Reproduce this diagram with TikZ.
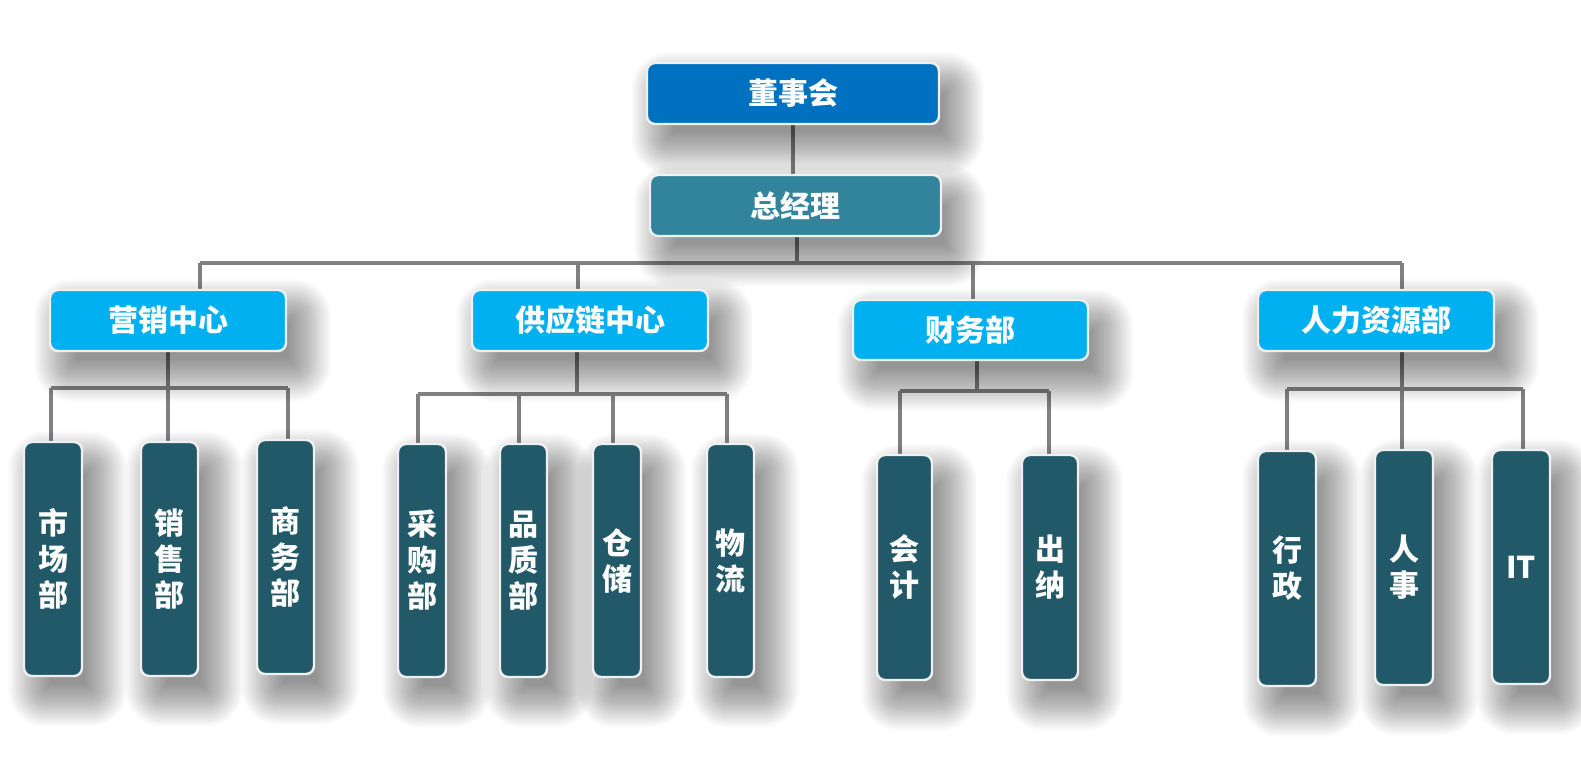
\documentclass[tikz,border=0pt]{standalone}
\usepackage{fontspec}
\newfontfamily\cjk{Noto Sans CJK SC}
\definecolor{cTop}{HTML}{0070C0}
\definecolor{cGM}{HTML}{31849B}
\definecolor{cMid}{HTML}{00B0F0}
\definecolor{cLeaf}{HTML}{215968}
\definecolor{cLine}{HTML}{808080}
\definecolor{cEdge}{HTML}{F0F0F0}
\pgfdeclarelayer{bg}
\pgfdeclarelayer{lines}
\pgfdeclarelayer{shadows}
\pgfsetlayers{bg,lines,shadows,main}
\tikzset{
  box/.style={rounded corners=6pt, draw=cEdge, line width=1.8pt, text=white,
    font=\cjk\bfseries\fontsize{22.5}{27}\selectfont, inner sep=0pt, align=center},
  dim/.style 2 args={minimum width=#1*0.75pt, minimum height=#2*0.75pt},
  topbox/.style={box, fill=cTop},
  gmbox/.style={box, fill=cGM},
  midbox/.style={box, fill=cMid},
  leafbox/.style={box, fill=cLeaf},
  link/.style={draw=cLine, line width=2.3pt},
  shadelayer/.style={fill=black, opacity=0.016}
}
\newcommand\myshadow[1]{%
  \begin{pgfonlayer}{shadows}
  \foreach \k in {0,...,29}{%
    \pgfmathsetmacro\e{(\k-9)*1.1}%
    \pgfmathsetmacro\rr{max(1,6+\e)}%
    \pgfmathsetmacro\xa{11-\e}%
    \pgfmathsetmacro\xb{11+\e}%
    \pgfmathsetmacro\ya{-15+\e}%
    \pgfmathsetmacro\yb{-15-\e}%
    \path[shadelayer, rounded corners=\rr pt]
      ([xshift=\xa pt, yshift=\ya pt]#1.north west) rectangle
      ([xshift=\xb pt, yshift=\yb pt]#1.south east);
  }
  \end{pgfonlayer}}
\begin{document}
\begin{tikzpicture}[x=0.75pt, y=-0.75pt]
\begin{pgfonlayer}{bg}
\fill[white] (0,0) rectangle (1581,763);
\end{pgfonlayer}
\useasboundingbox (0,0) rectangle (1581,763);

% top levels
\node[topbox, dim={292}{61}] (dsh) at (793,93.5) {董事会};
\node[gmbox, dim={291}{61}] (zjl) at (795.5,205.5) {总经理};

% mid level
\node[midbox, dim={236}{61}] (yx) at (168,320.5) {营销中心};
\node[midbox, dim={236}{61}] (gyl) at (590,320.5) {供应链中心};
\node[midbox, dim={235}{60}] (cwb) at (970.5,330) {财务部};
\node[midbox, dim={236}{61}] (rl) at (1376,320.5) {人力资源部};

% leaves
\node[leafbox, dim={58}{234}] (scb) at (53,559) {市\\场\\部};
\node[leafbox, dim={57}{234}] (xsb) at (169.5,559) {销\\售\\部};
\node[leafbox, dim={57}{234}] (swb) at (285.5,557) {商\\务\\部};

\node[leafbox, dim={48}{233}] (cgb) at (422,560.5) {采\\购\\部};
\node[leafbox, dim={47}{233}] (pzb) at (523.5,560.5) {品\\质\\部};
\node[leafbox, dim={48}{233}] (cc) at (617,560.5) {仓\\储};
\node[leafbox, dim={47}{233}] (wl) at (730.5,560.5) {物\\流};

\node[leafbox, dim={55}{225}] (kj) at (904.5,567.5) {会\\计};
\node[leafbox, dim={56}{225}] (cn) at (1050,567.5) {出\\纳};

\node[leafbox, dim={58}{235}] (xz) at (1287,568.5) {行\\政};
\node[leafbox, dim={58}{235}] (rs) at (1404,567.5) {人\\事};
\node[leafbox, dim={58}{234}] (it) at (1521,567) {IT};

\myshadow{dsh}\myshadow{zjl}
\myshadow{yx}\myshadow{gyl}\myshadow{cwb}\myshadow{rl}
\myshadow{scb}\myshadow{xsb}\myshadow{swb}
\myshadow{cgb}\myshadow{pzb}\myshadow{cc}\myshadow{wl}
\myshadow{kj}\myshadow{cn}
\myshadow{xz}\myshadow{rs}\myshadow{it}

% bus coordinates
\coordinate (b0) at (797,263);
\coordinate (bL) at (200,263);
\coordinate (b2) at (578,263);
\coordinate (b3) at (973,263);
\coordinate (bR) at (1402,263);

\coordinate (m1) at (51,388);
\coordinate (m2) at (288,388);

\coordinate (s0) at (577,394);
\coordinate (s1) at (418,394);
\coordinate (s2) at (519,394);
\coordinate (s3) at (613,394);
\coordinate (s4) at (727,394);

\coordinate (f0) at (977,391);
\coordinate (f1) at (900,391);
\coordinate (f2) at (1049,391);

\coordinate (h0) at (1402,389);
\coordinate (h1) at (1287,389);
\coordinate (h3) at (1523,389);

\begin{pgfonlayer}{lines}
\draw[link] (dsh.south) -- (dsh.south |- zjl.north);
\draw[link] (b0 |- zjl.south) -- (b0);
\draw[link] (bL) -- (bR);
\draw[link] (bL) -- (bL |- yx.north);
\draw[link] (b2) -- (b2 |- gyl.north);
\draw[link] (b3) -- (b3 |- cwb.north);
\draw[link] (bR) -- (bR |- rl.north);

\draw[link] (yx.south) -- (yx.south |- xsb.north);
\draw[link] (m1) -- (m2);
\draw[link] (m1) -- (m1 |- scb.north);
\draw[link] (m2) -- (m2 |- swb.north);

\draw[link] (s0 |- gyl.south) -- (s0);
\draw[link] (s1) -- (s4);
\draw[link] (s1) -- (s1 |- cgb.north);
\draw[link] (s2) -- (s2 |- pzb.north);
\draw[link] (s3) -- (s3 |- cc.north);
\draw[link] (s4) -- (s4 |- wl.north);

\draw[link] (f0 |- cwb.south) -- (f0);
\draw[link] (f1) -- (f2);
\draw[link] (f1) -- (f1 |- kj.north);
\draw[link] (f2) -- (f2 |- cn.north);

\draw[link] (h0 |- rl.south) -- (h0 |- rs.north);
\draw[link] (h1) -- (h3);
\draw[link] (h1) -- (h1 |- xz.north);
\draw[link] (h3) -- (h3 |- it.north);
\end{pgfonlayer}
\end{tikzpicture}
\end{document}
